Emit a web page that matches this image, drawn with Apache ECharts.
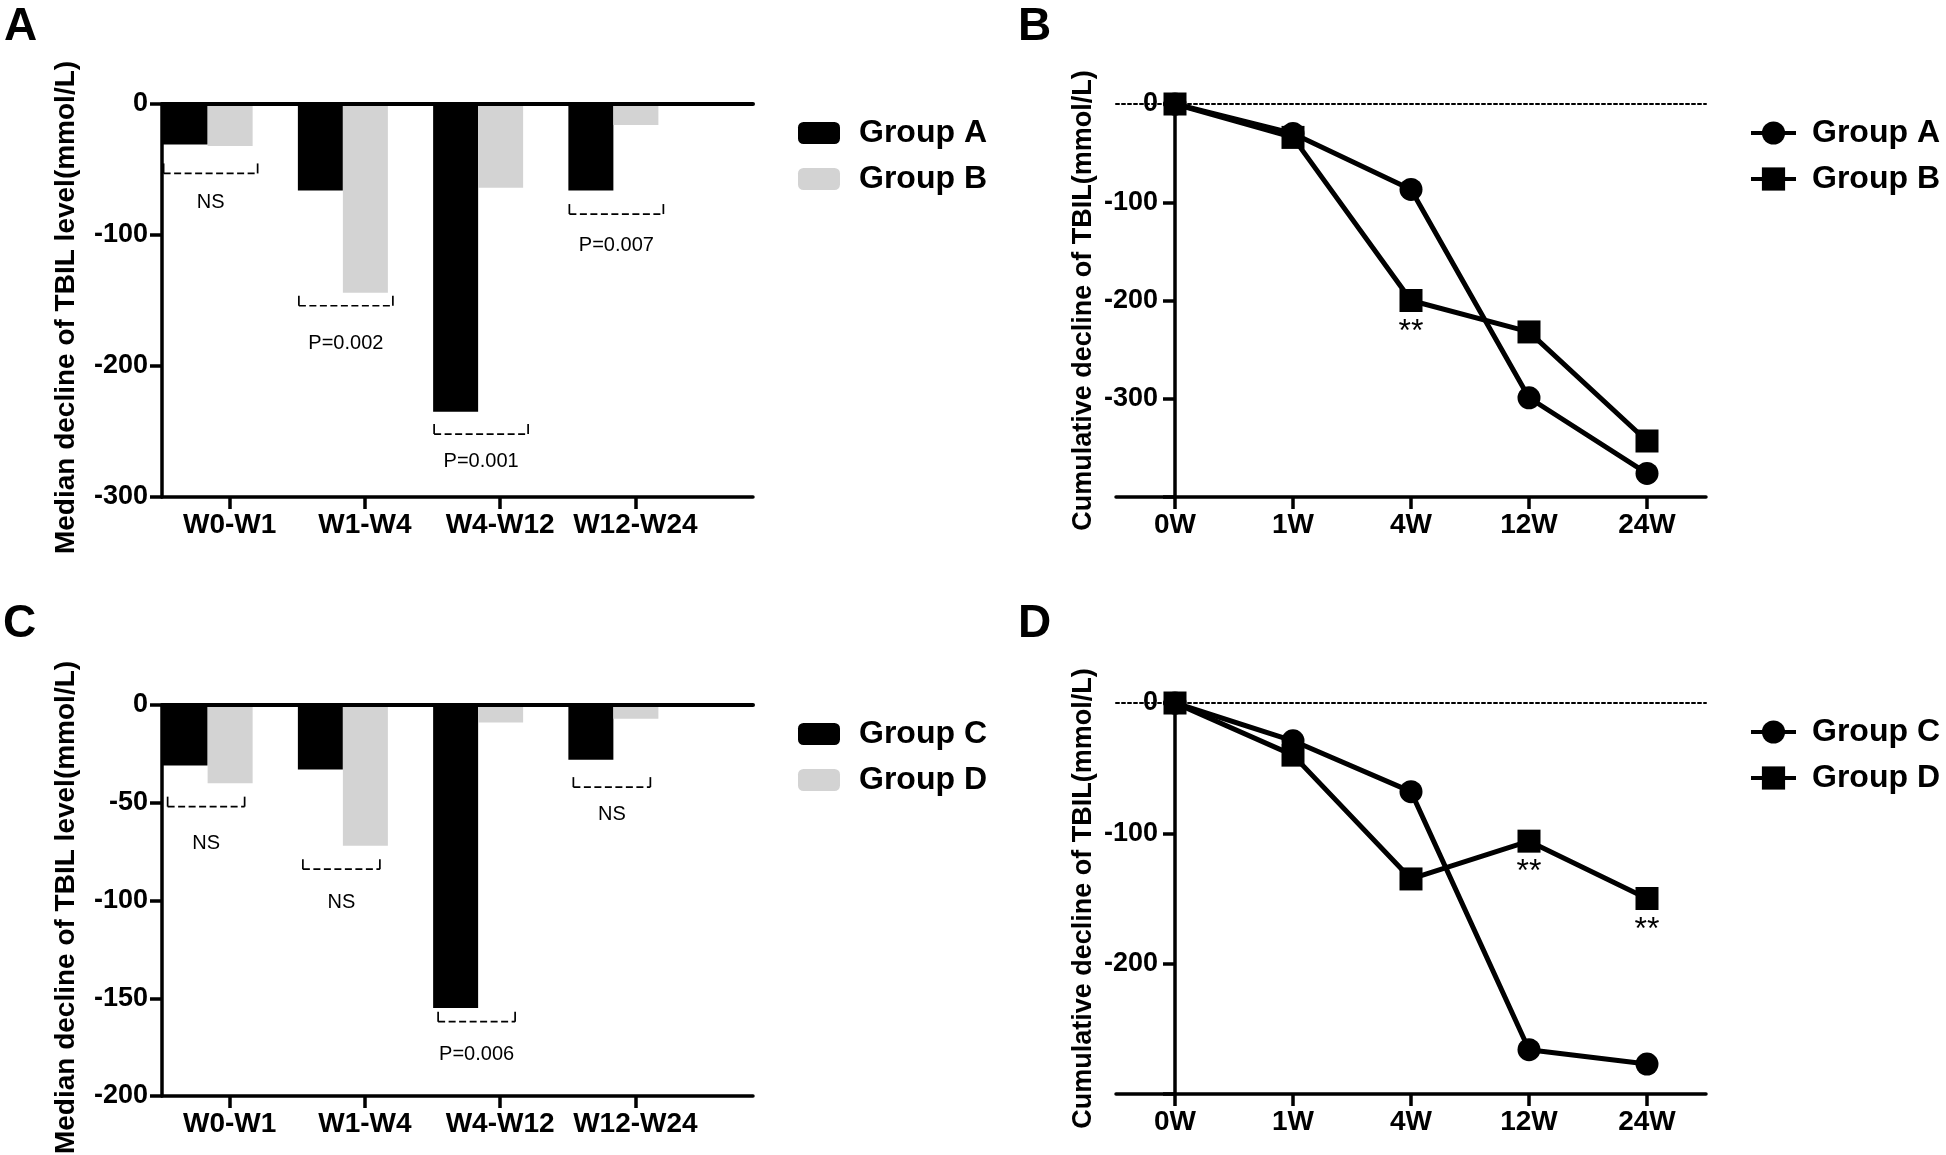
<!DOCTYPE html>
<html>
<head>
<meta charset="utf-8">
<title>TBIL decline</title>
<script src="https://cdn.jsdelivr.net/npm/echarts@6.0.0/dist/echarts.min.js"></script>
<style>
  html, body { margin: 0; padding: 0; background: #fff; }
  #chart { width: 1946px; height: 1155px; }
</style>
</head>
<body>
<div id="chart"></div>
<script>
// ---- data ----
var barCats = ['W0-W1', 'W1-W4', 'W4-W12', 'W12-W24'];
var medGroupA = [-31, -66, -235, -66];
var medGroupB = [-32, -144, -64, -16];
var medGroupC = [-31, -33, -155, -28];
var medGroupD = [-40, -72, -9, -7];
// significance brackets: label, level of the dashed line, level of the text
var sigAB = ['NS', 'P=0.002', 'P=0.001', 'P=0.007'];
var sigLineAB = [-53, -154, -252, -84];
var sigTextAB = [-75, -183, -273, -108];
var sigCD = ['NS', 'NS', 'P=0.006', 'NS'];
var sigLineCD = [-52, -84, -162, -42];
var sigTextCD = [-71, -101, -179, -56];
var yTicksAC = [0, -100, -200, -300];
var yTicksC = [0, -50, -100, -150, -200];

var weeks = ['0W', '1W', '4W', '12W', '24W'];
var cumGroupA = [0, -30, -87, -299, -376];
var cumGroupB = [0, -34, -200, -232, -343];
var cumGroupC = [0, -29, -68, -266, -277];
var cumGroupD = [0, -40, -135, -106, -150];
var starsB = ['', '', '**', '', ''];
var starsD = ['', '', '', '**', '**'];
var yTicksB = [0, -100, -200, -300];
var yMinB = -400;
var yTicksD = [0, -100, -200];
var yMinD = -300;

// ---- layout / style ----
var FONT = '"Liberation Sans", Arial, sans-serif';
var AXIS_W = 3.5;
var BAND = 135.25;      // width of one category in the bar panels
var BAR_SHIFT = 22;     // bar pairs sit half a bar left of the tick
var CUM = ' (cumulative)';

var option = {
  animation: false,
  backgroundColor: '#fff',
  textStyle: { fontFamily: FONT, color: '#000' },
  grid: [], xAxis: [], yAxis: [], series: [], legend: [], graphic: []
};

function lineStyle(w) {
  return { color: '#000', width: w || AXIS_W };
}

function yAxisCommon(p) {
  return {
    type: 'value', gridIndex: p.grid, min: p.min, max: 0, interval: p.interval, z: 5,
    name: p.name, nameLocation: 'middle', nameRotate: 90, nameGap: p.nameGap,
    nameTextStyle: { fontSize: p.nameSize, fontWeight: 'bold', color: '#000', fontFamily: FONT, padding: p.namePad },
    axisLine: { show: true, onZero: p.onZero, lineStyle: lineStyle() },
    axisTick: { show: true, length: 12, lineStyle: lineStyle() },
    axisLabel: {
      margin: p.labelMargin, fontSize: 27, fontWeight: 'bold', color: '#000', fontFamily: FONT,
      formatter: function (v) { return p.hide === v ? '' : String(v); }
    },
    splitLine: { show: false }
  };
}

function addBarPanel(p) {
  var g = option.grid.length;
  var xi = option.xAxis.length;
  var yi = option.yAxis.length;
  option.grid.push({ left: p.left, top: p.top, width: p.width, height: p.height, outerBoundsMode: 'none' });
  option.grid.push({ left: p.left - BAR_SHIFT, top: p.top, width: BAND * barCats.length, height: p.height, outerBoundsMode: 'none' });

  var xMax = p.width / BAND;
  var tickPos = barCats.map(function (c, i) { return i + 0.5; });
  option.xAxis.push({
    type: 'value', gridIndex: g, min: 0, max: xMax, position: 'bottom', z: 5,
    axisLine: { onZero: false, lineStyle: lineStyle() },
    axisTick: { show: true, length: 12, customValues: tickPos, lineStyle: lineStyle() },
    axisLabel: {
      customValues: tickPos, margin: 14, fontSize: 28, fontWeight: 'bold', color: '#000', fontFamily: FONT,
      formatter: function (v) { return barCats[Math.round(v - 0.5)]; }
    },
    splitLine: { show: false }
  });
  // solid line at zero along the top of the plot
  option.xAxis.push({
    type: 'value', gridIndex: g, min: 0, max: xMax, position: 'top', z: 5,
    axisLine: { onZero: false, lineStyle: lineStyle(4) },
    axisTick: { show: false }, axisLabel: { show: false }, splitLine: { show: false }
  });
  option.xAxis.push({ type: 'category', gridIndex: g + 1, data: barCats, show: false });

  var ticks = p.ticks;
  option.yAxis.push(yAxisCommon({
    grid: g, min: ticks[ticks.length - 1], interval: ticks[0] - ticks[1],
    name: 'Median decline of TBIL level(mmol/L)', nameGap: 82, nameSize: 28, namePad: [0, 14, 0, 0],
    onZero: false, labelMargin: 14
  }));
  option.yAxis.push({ type: 'value', gridIndex: g + 1, min: ticks[ticks.length - 1], max: 0, show: false });

  option.series.push({
    type: 'bar', name: p.names[0], xAxisIndex: xi + 2, yAxisIndex: yi + 1,
    data: p.v1, barWidth: 45, barGap: '0%', itemStyle: { color: '#000' }
  });
  option.series.push({
    type: 'bar', name: p.names[1], xAxisIndex: xi + 2, yAxisIndex: yi + 1,
    data: p.v2, barWidth: 45, barGap: '0%', itemStyle: { color: '#d3d3d3' }
  });
  option.series.push({
    type: 'custom', name: 'sig', xAxisIndex: xi + 2, yAxisIndex: yi + 1, z: 4,
    data: barCats.map(function (c, i) { return [i, p.sigLine[i], p.sigText[i]]; }),
    renderItem: function (params, api) {
      var a = api.coord([api.value(0), api.value(1)]);
      var t = api.coord([api.value(0), api.value(2)]);
      var x0 = a[0] + p.brL, x1 = a[0] + p.brR, y = a[1];
      var solid = { stroke: '#000', lineWidth: 1.7 };
      return {
        type: 'group',
        children: [
          { type: 'line', shape: { x1: x0, y1: y, x2: x1, y2: y }, style: { stroke: '#000', lineWidth: 1.7, lineDash: [7, 3.5] } },
          { type: 'line', shape: { x1: x0, y1: y, x2: x0, y2: y - 10 }, style: solid },
          { type: 'line', shape: { x1: x1, y1: y, x2: x1, y2: y - 10 }, style: solid },
          {
            type: 'text', x: (x0 + x1) / 2, y: t[1],
            style: { text: p.sig[params.dataIndex], fontSize: 20, fontFamily: FONT, fill: '#000', align: 'center', verticalAlign: 'middle' }
          }
        ]
      };
    }
  });

  option.legend.push({
    orient: 'vertical', left: p.legendLeft, top: p.legendTop,
    itemWidth: 42, itemHeight: 22, itemGap: 14, selectedMode: false,
    data: p.names,
    textStyle: { fontSize: 32, lineHeight: 32, fontWeight: 'bold', color: '#000', fontFamily: FONT, padding: [0, 0, 0, 14] }
  });
}

function addLinePanel(p) {
  var g = option.grid.length;
  var xi = option.xAxis.length;
  var yi = option.yAxis.length;
  option.grid.push({ left: p.left, top: p.top, width: p.width, height: p.height, outerBoundsMode: 'none' });
  var idx = weeks.map(function (w, i) { return i; });
  option.xAxis.push({
    type: 'value', gridIndex: g, min: -0.5, max: weeks.length - 0.5, position: 'bottom', z: 5,
    axisLine: { onZero: false, lineStyle: lineStyle() },
    axisTick: { show: true, length: 12, customValues: idx, lineStyle: lineStyle() },
    axisLabel: {
      customValues: idx, margin: 14, fontSize: 28, fontWeight: 'bold', color: '#000', fontFamily: FONT,
      formatter: function (v) { return weeks[Math.round(v)]; }
    },
    splitLine: { show: false }
  });
  // dotted reference line at zero
  option.xAxis.push({
    type: 'value', gridIndex: g, min: -0.5, max: weeks.length - 0.5, position: 'top', z: 1,
    axisLine: { onZero: false, lineStyle: { color: '#000', width: 2, type: [3, 3] } },
    axisTick: { show: false }, axisLabel: { show: false }, splitLine: { show: false }
  });
  // the y axis line sits on x = 0 (first week); its labels and name are placed from the grid edge
  option.yAxis.push(yAxisCommon({
    grid: g, min: p.yMin, interval: p.ticks[0] - p.ticks[1], hide: p.yMin,
    name: 'Cumulative decline of TBIL(mmol/L)', nameGap: 19, nameSize: 27, namePad: 0,
    onZero: true, labelMargin: -42
  }));

  function pts(vals, stars) {
    return vals.map(function (v, i) {
      var s = stars ? stars[i] : '';
      return {
        value: [i, v],
        label: {
          show: !!s, formatter: s, position: 'bottom', distance: 4,
          fontSize: 32, color: '#000', fontFamily: FONT
        }
      };
    });
  }
  option.series.push({
    type: 'line', name: p.names[0] + CUM, xAxisIndex: xi, yAxisIndex: yi, z: 3,
    data: pts(p.v1), symbol: 'circle', symbolSize: 23,
    lineStyle: { color: '#000', width: 5 }, itemStyle: { color: '#000', borderWidth: 0 }
  });
  option.series.push({
    type: 'line', name: p.names[1] + CUM, xAxisIndex: xi, yAxisIndex: yi, z: 3,
    data: pts(p.v2, p.stars), symbol: 'rect', symbolSize: 23,
    lineStyle: { color: '#000', width: 5 }, itemStyle: { color: '#000', borderWidth: 0 }
  });

  option.legend.push({
    orient: 'vertical', left: p.legendLeft, top: p.legendTop,
    itemWidth: 45, itemHeight: 29, itemGap: 14, selectedMode: false,
    data: [p.names[0] + CUM, p.names[1] + CUM],
    formatter: function (n) { return n.replace(CUM, ''); },
    lineStyle: { width: 4 },
    textStyle: { fontSize: 32, lineHeight: 32, fontWeight: 'bold', color: '#000', fontFamily: FONT, padding: [0, 0, 0, 11] }
  });
}

addBarPanel({
  left: 162, top: 104, width: 591, height: 393, ticks: yTicksAC,
  names: ['Group A', 'Group B'], v1: medGroupA, v2: medGroupB,
  sig: sigAB, sigLine: sigLineAB, sigText: sigTextAB, brL: -44, brR: 50,
  legendLeft: 793, legendTop: 112
});
addBarPanel({
  left: 162, top: 705, width: 591, height: 391, ticks: yTicksC,
  names: ['Group C', 'Group D'], v1: medGroupC, v2: medGroupD,
  sig: sigCD, sigLine: sigLineCD, sigText: sigTextCD, brL: -40, brR: 37,
  legendLeft: 793, legendTop: 713
});
addLinePanel({
  left: 1116, top: 104, width: 590, height: 393, ticks: yTicksB, yMin: yMinB,
  names: ['Group A', 'Group B'], v1: cumGroupA, v2: cumGroupB, stars: starsB,
  legendLeft: 1744, legendTop: 112
});
addLinePanel({
  left: 1116, top: 703, width: 590, height: 391, ticks: yTicksD, yMin: yMinD,
  names: ['Group C', 'Group D'], v1: cumGroupC, v2: cumGroupD, stars: starsD,
  legendLeft: 1744, legendTop: 711
});

// panel letters
[['A', 4, 4], ['B', 1018, 4], ['C', 3, 601], ['D', 1018, 601]].forEach(function (l) {
  option.graphic.push({
    type: 'text', left: l[1], top: l[2],
    style: { text: l[0], fontSize: 46, fontWeight: 'bold', fontFamily: FONT, fill: '#000' }
  });
});

var myChart = echarts.init(document.getElementById('chart'));
myChart.setOption(option);
</script>
</body>
</html>
